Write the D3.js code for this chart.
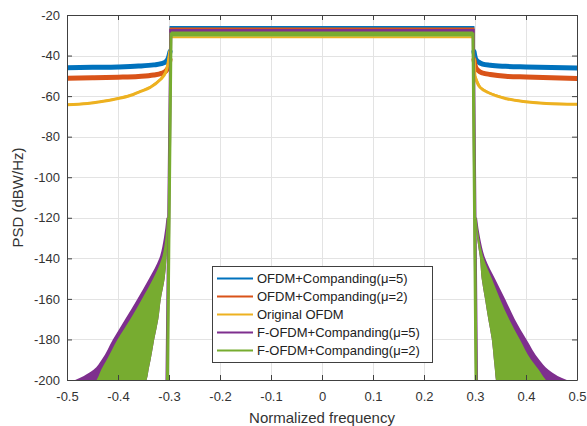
<!DOCTYPE html>
<html>
<head>
<meta charset="utf-8">
<script src="https://cdn.jsdelivr.net/npm/d3@7"></script>
<style>
  body { margin: 0; background: #fff; }
  svg text { font-family: "Liberation Sans", Arial, sans-serif; }
</style>
</head>
<body>
<svg id="chart"></svg>
<script>
const width = 587;
const height = 426;
const margin = { top: 15, right: 10, bottom: 46, left: 67 };

// tick values
const xTicks = [-0.5, -0.4, -0.3, -0.2, -0.1, 0, 0.1, 0.2, 0.3, 0.4, 0.5];
const yTicks = [-200, -180, -160, -140, -120, -100, -80, -60, -40, -20];

// series: [normalized frequency, PSD dB]
const ofdmMu5 = [
  [-0.5, -46.0], [-0.45, -45.8], [-0.4, -45.6], [-0.36, -45.2], [-0.33, -44.6],
  [-0.315, -44.0], [-0.306, -43.0], [-0.301, -41.0], [-0.298, -38.0], [-0.297, -25.9],
  [0.297, -25.9], [0.298, -38.0], [0.301, -41.5], [0.306, -43.0], [0.315, -44.2],
  [0.33, -44.8], [0.36, -45.3], [0.4, -45.6], [0.45, -45.9], [0.5, -46.1]
];
const ofdmMu2 = [
  [-0.5, -51.2], [-0.45, -51.0], [-0.4, -50.7], [-0.36, -50.3], [-0.33, -49.6],
  [-0.315, -48.8], [-0.306, -47.6], [-0.301, -45.5], [-0.298, -42.0], [-0.297, -26.6],
  [0.297, -26.6], [0.298, -42.0], [0.301, -45.5], [0.306, -47.3], [0.315, -48.6],
  [0.33, -49.3], [0.36, -50.2], [0.4, -50.6], [0.45, -51.0], [0.5, -51.3]
];
const ofdmOrig = [
  [-0.5, -64.2], [-0.46, -63.6], [-0.435, -62.8], [-0.4, -61.2], [-0.37, -59.2],
  [-0.357, -57.8], [-0.337, -55.7], [-0.318, -52.1], [-0.306, -48.0], [-0.302, -44.0],
  [-0.2985, -38.0], [-0.297, -31.0],
  [0.297, -31.0], [0.2985, -42.0], [0.3, -50.0], [0.31, -55.7], [0.329, -58.6],
  [0.362, -61.3], [0.395, -62.7], [0.44, -63.6], [0.5, -64.0]
];
const fofdmMu5 = [[-0.304, -200], [-0.2965, -27.7], [0.2965, -27.7], [0.303, -200]];
const fofdmMu2 = [[-0.303, -200], [-0.296, -29.4], [0.296, -29.4], [0.302, -200]];

// F-OFDM side lobes: frequency of the envelope at each PSD level
const skirtDb = [-120, -130, -140, -150, -160, -170, -180, -190, -195, -198, -200];
const purpleOuterL = [-0.305, -0.310, -0.319, -0.339, -0.362, -0.386, -0.410, -0.432, -0.448, -0.467, -0.484];
const greenOuterL = [-0.304, -0.307, -0.314, -0.331, -0.353, -0.376, -0.401, -0.422, -0.433, -0.438, -0.442];
const greenInnerL = [-0.302, -0.303, -0.305, -0.3085, -0.316, -0.321, -0.329, -0.336, -0.340, -0.342, -0.344];
const purpleOuterR = [0.304, 0.310, 0.320, 0.339, 0.359, 0.378, 0.401, 0.426, 0.444, 0.462, 0.480];
const greenOuterR = [0.303, 0.308, 0.317, 0.333, 0.349, 0.367, 0.388, 0.410, 0.425, 0.433, 0.439];
const greenInnerR = [0.301, 0.304, 0.3098, 0.313, 0.3196, 0.326, 0.333, 0.337, 0.339, 0.340, 0.341];

const legendLabels = [
  "OFDM+Companding(μ=5)",
  "OFDM+Companding(μ=2)",
  "Original OFDM",
  "F-OFDM+Companding(μ=5)",
  "F-OFDM+Companding(μ=2)"
];
const colors = ["#0072BD", "#D95319", "#EDB120", "#7E2F8E", "#77AC30"];

const svg = d3.select("#chart")
  .attr("width", width)
  .attr("height", height);

const x = d3.scaleLinear()
  .domain([-0.5, 0.5])
  .range([margin.left, width - margin.right]);

const y = d3.scaleLinear()
  .domain([-200, -20])
  .range([height - margin.bottom, margin.top]);

svg.append("defs").append("clipPath")
  .attr("id", "plot-clip")
  .append("rect")
  .attr("x", margin.left)
  .attr("y", margin.top)
  .attr("width", width - margin.left - margin.right)
  .attr("height", height - margin.top - margin.bottom);

// grid
const grid = svg.append("g").attr("stroke", "#e3e3e3").attr("stroke-width", 1);
grid.selectAll(".gx")
  .data(xTicks)
  .join("line")
  .attr("x1", d => Math.round(x(d)) + 0.5)
  .attr("x2", d => Math.round(x(d)) + 0.5)
  .attr("y1", y.range()[1])
  .attr("y2", y.range()[0]);
grid.selectAll(".gy")
  .data(yTicks)
  .join("line")
  .attr("x1", x.range()[0])
  .attr("x2", x.range()[1])
  .attr("y1", d => Math.round(y(d)) + 0.5)
  .attr("y2", d => Math.round(y(d)) + 0.5);

const plot = svg.append("g").attr("clip-path", "url(#plot-clip)");

const line = d3.line()
  .x(d => x(d[0]))
  .y(d => y(d[1]));

const smoothLine = d3.line()
  .x(d => x(d[0]))
  .y(d => y(d[1]))
  .curve(d3.curveMonotoneX);

const outOfBand = arr => [arr.filter(d => d[0] <= -0.298), arr.filter(d => d[0] >= 0.298)];

// OFDM curves: thin in-band, thick noisy out-of-band
[ofdmMu5, ofdmMu2, ofdmOrig].forEach((arr, i) => {
  plot.append("path")
    .datum(arr)
    .attr("fill", "none")
    .attr("stroke", colors[i])
    .attr("stroke-width", 2)
    .attr("d", line);
  outOfBand(arr).forEach(side => {
    plot.append("path")
      .datum(side)
      .attr("fill", "none")
      .attr("stroke", colors[i])
      .attr("stroke-width", i === 2 ? 3 : 5)
      .attr("stroke-linecap", "round")
      .attr("d", smoothLine);
  });
});

const skirt = d3.area()
  .y(d => y(d.db))
  .x0(d => x(d.inner))
  .x1(d => x(d.outer))
  .curve(d3.curveMonotoneY);

const skirtData = (inner, outer) => skirtDb.map((db, i) => ({ db, inner: inner[i], outer: outer[i] }));

// purple F-OFDM mu=5
plot.append("path").datum(skirtData(greenInnerL, purpleOuterL)).attr("fill", colors[3]).attr("d", skirt);
plot.append("path").datum(skirtData(greenInnerR, purpleOuterR)).attr("fill", colors[3]).attr("d", skirt);
plot.append("path")
  .datum(fofdmMu5)
  .attr("fill", "none")
  .attr("stroke", colors[3])
  .attr("stroke-width", 3)
  .attr("d", line);

// green F-OFDM mu=2
plot.append("path").datum(skirtData(greenInnerL, greenOuterL)).attr("fill", colors[4]).attr("d", skirt);
plot.append("path").datum(skirtData(greenInnerR, greenOuterR)).attr("fill", colors[4]).attr("d", skirt);
plot.append("path")
  .datum(fofdmMu2)
  .attr("fill", "none")
  .attr("stroke", colors[4])
  .attr("stroke-width", 3)
  .attr("d", line);
plot.append("path")
  .datum(fofdmMu2.slice(1, 3))
  .attr("fill", "none")
  .attr("stroke", colors[4])
  .attr("stroke-width", 5)
  .attr("d", line);

// axes
const fmtX = d => String(+d.toFixed(1));
const axisColor = "#404040";

const gx = svg.append("g")
  .attr("transform", `translate(0,${y.range()[0]})`)
  .call(d3.axisBottom(x).tickValues(xTicks).tickFormat(fmtX).tickSizeInner(-5).tickSizeOuter(0).tickPadding(12));
const gxTop = svg.append("g")
  .attr("transform", `translate(0,${y.range()[1]})`)
  .call(d3.axisTop(x).tickValues(xTicks).tickFormat("").tickSizeInner(-5).tickSizeOuter(0));
const gy = svg.append("g")
  .attr("transform", `translate(${x.range()[0]},0)`)
  .call(d3.axisLeft(y).tickValues(yTicks).tickFormat(d => String(d)).tickSizeInner(-5).tickSizeOuter(0).tickPadding(7));
const gyRight = svg.append("g")
  .attr("transform", `translate(${x.range()[1]},0)`)
  .call(d3.axisRight(y).tickValues(yTicks).tickFormat("").tickSizeInner(-5).tickSizeOuter(0));

[gx, gxTop, gy, gyRight].forEach(g => {
  g.selectAll("path, line").attr("stroke", axisColor);
  g.selectAll("text")
    .attr("fill", "#333")
    .style("font-size", "13px")
    .style("font-family", "'Liberation Sans', Arial, sans-serif");
});

svg.append("text")
  .attr("x", (x.range()[0] + x.range()[1]) / 2)
  .attr("y", 423)
  .attr("text-anchor", "middle")
  .attr("fill", "#333")
  .style("font-size", "15px")
  .text("Normalized frequency");

svg.append("text")
  .attr("transform", `translate(23,${(y.range()[0] + y.range()[1]) / 2}) rotate(-90)`)
  .attr("text-anchor", "middle")
  .attr("fill", "#333")
  .style("font-size", "15px")
  .text("PSD (dBW/Hz)");

// legend
const legend = svg.append("g").attr("transform", "translate(212,266)");
legend.append("rect")
  .attr("x", 0.5)
  .attr("y", 0.5)
  .attr("width", 220)
  .attr("height", 96)
  .attr("fill", "#fff")
  .attr("stroke", "#404040")
  .attr("stroke-width", 1);

const items = legend.selectAll(".item")
  .data(legendLabels)
  .join("g")
  .attr("transform", (d, i) => `translate(0,${12.5 + i * 18})`);
items.append("line")
  .attr("x1", 5)
  .attr("x2", 41)
  .attr("stroke", (d, i) => colors[i])
  .attr("stroke-width", 2);
items.append("text")
  .attr("x", 45)
  .attr("dy", "0.35em")
  .attr("fill", "#222")
  .style("font-size", "13px")
  .text(d => d);
</script>
</body>
</html>
